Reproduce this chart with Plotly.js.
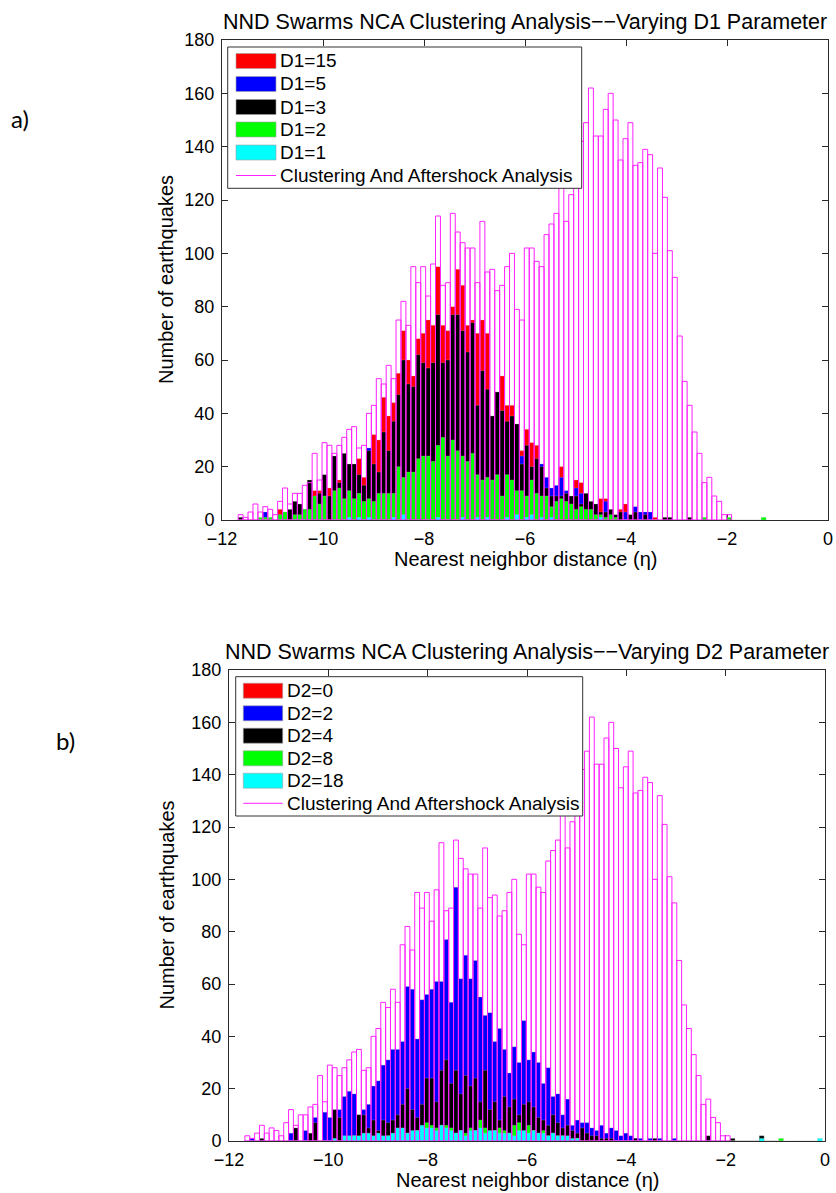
<!DOCTYPE html>
<html><head><meta charset="utf-8">
<script src="https://cdn.plot.ly/plotly-3.0.1.min.js"></script>
<style>html,body{margin:0;padding:0;background:#fff}</style>
</head><body><div id="chart" style="width:836px;height:1193px"></div>
<script>
// Histogram bin grid (eta)
const BIN_START = -11.68, BIN_WIDTH = 0.0977;

// Clustering And Aftershock Analysis (same in both panels)
const MAGENTA = [2,1,3,6,3,5,4,2,7,12, 6,10,10,13,14,25,15,29,28,25,
  28,31,34,35,27,28,40,43,53,51, 58,53,75,82,73,95,89,95,84,96,
  114,88,89,115,108,104,102,102,89,112, 93,94,86,88,95,100,79,75,102,102,
  97,95,107,111,115,125,112,122,125,142, 149,162,144,144,154,160,150,135,143,149,
  133,134,139,137,100,132,121,101,91,69, 52,43,33,25,14,16,9,7,2,2];

// Panel a) varying D1
const D1_15 = [0,0,0,0,0,0,0,0,4,0, 0,0,0,0,0,11,11,0,12,0, 15,0,0,0,23,16,22,32,30,46,
  39,44,55,71,60,54,68,70,75,73, 95,73,71,80,94,88,73,75,70,75, 70,39,48,54,43,43,35,26,34,29,
  28,0,0,0,0,20,0,0,15,14, 0,0,0,8,8,0,0,4,6,0, 0,0,0,0,1];
const D1_5 = [0,0,0,0,0,3,0,0,0,0, 0,0,0,0,0,0,0,0,0,0, 0,0,0,0,0,0,27,0,0,0,
  0,0,0,0,0,0,0,0,0,0, 0,0,0,0,0,0,0,0,0,0, 0,0,0,0,0,0,0,24,0,0,
  0,21,16,12,13,16,11,0,12,10, 0,0,0,0,7,0,0,0,3,0, 5,3,3,3];
const D1_3 = [1,0,0,0,0,0,0,0,2,0, 4,7,6,4,15,8,10,17,9,24, 14,25,21,21,17,13,26,21,18,33,
  26,37,47,60,51,50,62,59,57,59, 77,59,60,77,77,71,63,74,43,56, 49,39,48,41,37,39,36,21,28,20,
  23,20,12,9,9,9,10,9,9,6, 10,7,6,3,3,4,2,3,0,2, 3,0,2,0,0,0,1,1,0,0, 0,1];
const D1_2 = [0,0,0,0,1,1,1,0,2,3, 0,2,2,4,4,9,6,9,0,11, 12,8,11,8,10,7,8,7,10,10,
  10,10,20,16,18,18,23,24,24,22, 28,31,24,30,26,24,22,25,17,15, 16,15,17,9,17,15,11,11,9,15,
  10,9,9,5,7,8,7,6,4,5, 4,4,2,2,1,2,1,0,0,0, 0,0,0,0,0,0,0,0,0,0, 0,0,0,0,1,0,0,0,0,1,
  0,0,0,0,0,0,1];
const D1_1 = [0,0,0,0,0,0,0,0,0,0, 0,0,0,0,0,0,0,0,0,0, 0,0,1,0,1,0,1,0,0,0,
  0,1,0,2,0,0,0,0,0,0, 1,0,0,0,0,1,0,0,1,0, 1,0,0,0,1,0,2,0,1,2, 0,1,0,1,0,0,0,0,0,0, 0,0,0,1];

// Panel b) varying D2
const D2_0 = [];
const D2_2 = [0,1,0,0,0,0,0,0,0,3, 0,0,4,0,9,0,11,9,0,12, 17,19,18,10,12,14,21,23,29,31,
  35,35,38,59,58,39,54,56,58,61, 61,77,53,97,62,71,62,69,55,48, 49,38,43,35,26,36,30,46,31,34,
  30,22,28,17,18,10,16,6,8,7, 7,5,4,6,3,5,4,2,3,2, 1,1,0,1,0,1,0,0,1];
const D2_4 = [0,0,0,1,0,0,0,0,0,0, 5,0,0,3,7,0,0,0,12,9, 0,0,0,10,10,5,8,4,8,7,
  8,10,14,20,12,9,14,24,24,15, 27,31,22,27,18,25,21,24,15,27, 12,15,8,17,13,16,10,14,15,13,
  9,8,6,10,7,5,6,4,3,5, 3,2,2,1,1,1,0,0,0,0, 1,0,0,0,1,0,0,0,0,0, 0,0,0,0,0,2,0,0,0,0,
  1,0,0,0,0,0,2];
const D2_8 = [0,0,0,0,0,0,0,0,0,0, 0,0,0,0,0,0,0,0,0,0, 1,0,2,0,0,2,0,2,0,2,
  0,3,0,3,0,4,5,7,6,5, 6,6,5,3,4,3,5,4,8,5, 3,4,5,4,3,6,7,3,6,4, 3,4,2,3,2,2,1,0,1,0,
  0,0,0,0,0,0,0,0,0,0, 0,0,0,0,0,0,0,0,0,0, 0,0,0,0,0,0,0,0,0,0, 0,0,0,0,0,0,0,0,0,0, 1];
const D2_18 = [0,0,0,0,0,0,0,0,0,0, 0,0,0,0,0,0,0,0,1,0, 2,2,2,2,3,3,2,3,2,2,
  3,5,5,3,4,4,6,5,5,4, 6,5,4,3,4,2,4,4,5,3, 4,4,3,3,3,2,4,4,3,4, 3,3,2,3,2,2,2,1,1,0,
  0,0,0,0,0,0,0,0,0,0, 0,0,0,0,0,0,0,0,0,0, 0,0,0,0,0,0,0,0,0,0, 0,0,0,0,0,0,1,0,0,0,
  0,0,0,0,0,0,0,0,1];

const LEG_A = ['D1=15','D1=5','D1=3','D1=2','D1=1','Clustering And Aftershock Analysis'];
const LEG_B = ['D2=0','D2=2','D2=4','D2=8','D2=18','Clustering And Aftershock Analysis'];
const COLORS = ['#ff0000','#0000ff','#000000','#00ff00','#00ffff'];
const MAG = '#ff22ff';

const W = 836, H = 1193;
const px = x => x / W, py = y => 1 - y / H;
const FONT = 'Liberation Sans, Arial, sans-serif';
const centers = arr => arr.map((_, i) => BIN_START + (i + 0.5) * BIN_WIDTH);

function fillTrace(vals, color, xa, ya) {
  return {type:'bar', x:centers(vals), y:vals, width:BIN_WIDTH, xaxis:xa, yaxis:ya,
    marker:{color:color, line:{width:0.4, color:'rgba(190,190,190,0.7)'}}, showlegend:false, hoverinfo:'skip'};
}
function outlineTrace(vals, xa, ya) {
  return {type:'bar', x:centers(vals), y:vals, width:BIN_WIDTH, xaxis:xa, yaxis:ya,
    marker:{color:'rgba(0,0,0,0)', line:{color:MAG, width:1}}, showlegend:false, hoverinfo:'skip'};
}

const seriesA = [D1_15, D1_5, D1_3, D1_2, D1_1];
const seriesB = [D2_0, D2_2, D2_4, D2_8, D2_18];
const data = [];
seriesA.forEach((s, i) => data.push(fillTrace(s, COLORS[i], 'x', 'y')));
data.push(outlineTrace(MAGENTA, 'x', 'y'));
seriesB.forEach((s, i) => data.push(fillTrace(s, COLORS[i], 'x2', 'y2')));
data.push(outlineTrace(MAGENTA, 'x2', 'y2'));

const axBase = {showline:true, linecolor:'#2a2a2a', linewidth:1, mirror:'ticks', ticks:'inside',
  ticklen:6, tickcolor:'#2a2a2a', tickwidth:1, showgrid:false, zeroline:false,
  tickfont:{family:FONT, size:18, color:'#000'}, layer:'below traces', fixedrange:true, automargin:false};
const xBase = {...axBase, range:[-12,0], dtick:2, tick0:0, ticklabelstandoff:2};
const yBase = {...axBase, range:[0,180], dtick:20, tick0:0, ticklabelstandoff:3};

const A = {x0:222, x1:828, yTop:40, yBot:520};
const B = {x0:229, x1:825, yTop:670, yBot:1141};

const shapes = [], ann = [];
function legend(box, rows, labels) {
  shapes.push({type:'rect', xref:'paper', yref:'paper', x0:px(box.x0), x1:px(box.x1), y0:py(box.y1), y1:py(box.y0),
    fillcolor:'#fff', line:{color:'#333', width:1}, layer:'above'});
  labels.forEach((lab, i) => {
    const cy = rows[i];
    if (i < 5) {
      shapes.push({type:'rect', xref:'paper', yref:'paper', x0:px(box.sx0), x1:px(box.sx1), y0:py(cy+7.5), y1:py(cy-7.5),
        fillcolor:COLORS[i], line:{color:'rgba(160,160,160,0.6)', width:1}, layer:'above'});
    } else {
      shapes.push({type:'line', xref:'paper', yref:'paper', x0:px(box.sx0), x1:px(box.sx1), y0:py(cy), y1:py(cy),
        line:{color:MAG, width:1}, layer:'above'});
    }
    ann.push({xref:'paper', yref:'paper', x:px(box.tx), y:py(cy), xanchor:'left', yanchor:'middle',
      text:lab, showarrow:false, font:{family:FONT, size:19, color:'#000'}});
  });
}
legend({x0:227.7, x1:581.7, y0:47, y1:188.3, sx0:236, sx1:276, tx:278}, [61,84,107,129.5,152.5,175.5], LEG_A);
legend({x0:235.7, x1:582.7, y0:676.7, y1:816, sx0:243.3, sx1:282.7, tx:285}, [690.7,713.3,735.7,758.3,780.7,803.3], LEG_B);

function panelText(P, title, tag, tagX, tagY) {
  const cx = (P.x0 + P.x1) / 2;
  ann.push({xref:'paper', yref:'paper', x:px(cx), y:py(P.yTop - 4), xanchor:'center', yanchor:'bottom',
    text:title, showarrow:false, font:{family:FONT, size:21.5, color:'#000'}});
  ann.push({xref:'paper', yref:'paper', x:px(cx), y:py(P.yBot + 26), xanchor:'center', yanchor:'top',
    text:'Nearest neighbor distance (η)', showarrow:false, font:{family:FONT, size:20, color:'#000'}});
  ann.push({xref:'paper', yref:'paper', x:px(166), y:py((P.yTop + P.yBot) / 2), xanchor:'center', yanchor:'middle',
    text:'Number of earthquakes', textangle:-90, showarrow:false, font:{family:FONT, size:20, color:'#000'}});
  ann.push({xref:'paper', yref:'paper', x:px(tagX), y:py(tagY), xanchor:'center', yanchor:'middle',
    text:tag, showarrow:false, font:{family:'Lato, Open Sans, sans-serif', size:24, color:'#000'}});
}
panelText(A, 'NND Swarms NCA Clustering Analysis−−Varying D1 Parameter', 'a)', 20, 118);
panelText(B, 'NND Swarms NCA Clustering Analysis−−Varying D2 Parameter', 'b)', 65, 740);

const layout = {
  width:W, height:H, margin:{l:0, r:0, t:0, b:0}, paper_bgcolor:'#fff', plot_bgcolor:'#fff',
  barmode:'overlay', showlegend:false,
  xaxis:{...xBase, domain:[px(A.x0), px(A.x1)], anchor:'y'},
  yaxis:{...yBase, domain:[py(A.yBot), py(A.yTop)], anchor:'x'},
  xaxis2:{...xBase, domain:[px(B.x0), px(B.x1)], anchor:'y2'},
  yaxis2:{...yBase, domain:[py(B.yBot), py(B.yTop)], anchor:'x2'},
  shapes:shapes, annotations:ann
};
Plotly.newPlot('chart', data, layout, {staticPlot:true, displayModeBar:false});
</script></body></html>
